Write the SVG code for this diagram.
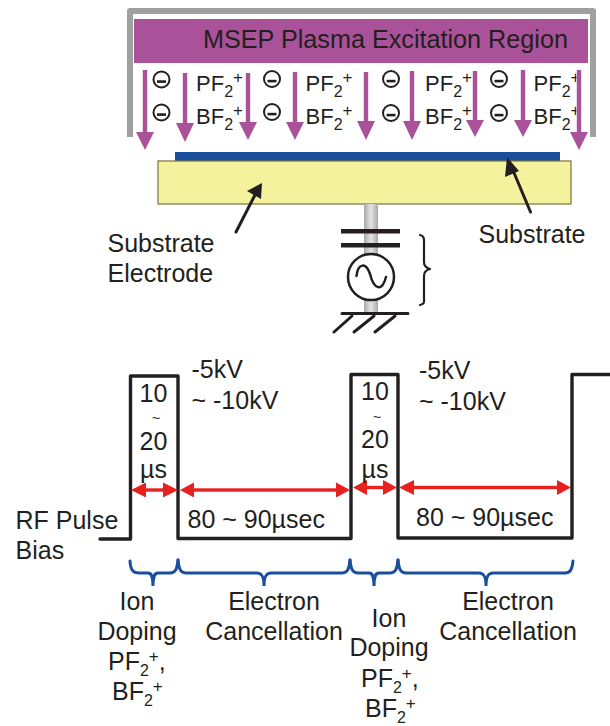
<svg xmlns="http://www.w3.org/2000/svg" width="610" height="726" viewBox="0 0 610 726">
<style>
text{font-family:"Liberation Sans",Arial,sans-serif;fill:#231f20;font-size:25px}
.ion{font-size:22px}
.sub{font-size:16px}
.sup{font-size:17px}
.pa{fill:#a9529a}
.ra{fill:#e8201f}
.k{fill:none;stroke:#231f20;stroke-linecap:round;stroke-linejoin:round}
.neg circle{fill:none;stroke:#231f20;stroke-width:2}
.neg rect{fill:#231f20}
.br{fill:none;stroke:#1b4f9e;stroke-width:3;stroke-linecap:round}
</style>
<defs>
<linearGradient id="col" x1="0" x2="1" y1="0" y2="0">
<stop offset="0" stop-color="#a8a8a8"/><stop offset="0.5" stop-color="#e4e4e4"/><stop offset="1" stop-color="#a8a8a8"/>
</linearGradient>
<g id="neg" class="neg"><circle r="8"/><rect x="-4.5" y="0.8" width="9" height="2.6"/></g>
<clipPath id="lastIon"><rect x="530" y="70" width="46.5" height="70"/></clipPath>
</defs>
<g id="chamber">
<path d="M130 137V11H593V137" fill="none" stroke="#a0a0a0" stroke-width="6" stroke-linejoin="round"/>
</g>
<g id="plasma-region">
<rect x="134" y="19" width="454" height="44" fill="#a9529a"/>
<text x="203" y="48" style="font-size:25.2px">MSEP Plasma Excitation Region</text>
</g>
<g id="negatives">
<use href="#neg" x="161.500" y="79.500"/><use href="#neg" x="161.500" y="112.500"/>
<use href="#neg" x="272" y="79"/><use href="#neg" x="272" y="112"/>
<use href="#neg" x="391" y="79"/><use href="#neg" x="391" y="113"/>
<use href="#neg" x="499" y="79"/><use href="#neg" x="499" y="113"/>
</g>
<g id="ions">
<text class="ion" x="196" y="91">PF<tspan class="sub" dy="6">2</tspan><tspan class="sup" dy="-14">+</tspan></text>
<text class="ion" x="196" y="124">BF<tspan class="sub" dy="6">2</tspan><tspan class="sup" dy="-14">+</tspan></text>
<text class="ion" x="305.500" y="91">PF<tspan class="sub" dy="6">2</tspan><tspan class="sup" dy="-14">+</tspan></text>
<text class="ion" x="305.500" y="124">BF<tspan class="sub" dy="6">2</tspan><tspan class="sup" dy="-14">+</tspan></text>
<text class="ion" x="425" y="91">PF<tspan class="sub" dy="6">2</tspan><tspan class="sup" dy="-14">+</tspan></text>
<text class="ion" x="425" y="124">BF<tspan class="sub" dy="6">2</tspan><tspan class="sup" dy="-14">+</tspan></text>
<g clip-path="url(#lastIon)">
<text class="ion" x="533.500" y="91">PF<tspan class="sub" dy="6">2</tspan><tspan class="sup" dy="-14">+</tspan></text>
<text class="ion" x="533.500" y="124">BF<tspan class="sub" dy="6">2</tspan><tspan class="sup" dy="-14">+</tspan></text>
</g>
</g>
<g id="ion-arrows">
<polygon class="pa" points="142.800,70 147.200,70 147.200,132 154,132 145,150 136,132 142.800,132"/>
<polygon class="pa" points="182.800,73 187.200,73 187.200,123 194,123 185,142 176,123 182.800,123"/>
<polygon class="pa" points="245.800,73 250.200,73 250.200,122 257,122 248,140 239,122 245.800,122"/>
<polygon class="pa" points="292.800,72 297.200,72 297.200,122 304,122 295,140 286,122 292.800,122"/>
<polygon class="pa" points="363.800,72 368.200,72 368.200,121 375,121 366,140 357,121 363.800,121"/>
<polygon class="pa" points="409.800,71 414.200,71 414.200,121 421,121 412,140 403,121 409.800,121"/>
<polygon class="pa" points="472.800,71 477.200,71 477.200,120 484,120 475,137 466,120 472.800,120"/>
<polygon class="pa" points="520.800,70 525.200,70 525.200,120 532,120 523,137 514,120 520.800,120"/>
<polygon class="pa" points="576.800,70 581.200,70 581.200,132 588,132 579,150 570,132 576.800,132"/>
</g>
<g id="substrate"><rect x="175" y="152" width="385" height="9" fill="#1b4f9e"/></g>
<g id="electrode"><rect x="158" y="161" width="413" height="43" fill="#f5f29d" stroke="#7d6f3c" stroke-width="1.2"/></g>
<g id="rf-source">
<rect x="364" y="204" width="14" height="108" fill="url(#col)"/>
<rect x="341" y="229" width="59" height="4.500" fill="#231f20"/>
<rect x="341" y="243" width="59" height="4.500" fill="#231f20"/>
<circle cx="371" cy="277" r="23" fill="#fff" stroke="#231f20" stroke-width="2.500"/>
<path class="k" stroke-width="2.500" d="M356.500 276C358 263 366 262 370 274C374 290 382 292 386 277"/>
<path class="k" stroke-width="3" d="M342 313.500H408M352 316L334 332M374 316L354 332M395 316L375 332" stroke-linecap="butt"/>
<path class="k" stroke-width="2.200" d="M420 235C425 236 424 240 424 246V262C424 266 426 268 430 269C426 270 424 272 424 276V296C424 302 425 304 420 305"/>
</g>
<g id="callouts">
<path class="k" stroke-width="3" d="M236 232L256 193M530.500 212L512 168" stroke-linecap="butt"/>
<polygon points="262,183 261,199 247,191" fill="#231f20"/>
<polygon points="507,157 519,171 505,177" fill="#231f20"/>
<text x="107.500" y="252">Substrate</text>
<text x="107.500" y="282">Electrode</text>
<text x="478.500" y="243">Substrate</text>
</g>
<g id="pulse">
<path class="k" stroke-width="3.400" stroke-linecap="butt" d="M100 539H130.500V376H178V538.500H351V374.500H398V538H572V374.500H610"/>
</g>
<g id="timing-arrows">
<rect class="ra" x="140" y="488.300" width="30" height="3.400"/>
<polygon class="ra" points="131,490 146,482.500 146,497.500"/><polygon class="ra" points="178,490 163,482.500 163,497.500"/>
<rect class="ra" x="190" y="488.300" width="150" height="3.400"/>
<polygon class="ra" points="180,490 194,482.500 194,497.500"/><polygon class="ra" points="350,490 336,482.500 336,497.500"/>
<rect class="ra" x="360" y="485.800" width="30" height="3.400"/>
<polygon class="ra" points="353,487.500 367,480 367,495"/><polygon class="ra" points="397,487.500 383,480 383,495"/>
<rect class="ra" x="410" y="485.800" width="150" height="3.400"/>
<polygon class="ra" points="399,487.500 414,480 414,495"/><polygon class="ra" points="571,487.500 557,480 557,495"/>
</g>
<g id="pulse-labels">
<text x="191.500" y="378">-5kV</text><text x="191.500" y="409">~ -10kV</text>
<text x="419" y="379">-5kV</text><text x="419" y="410">~ -10kV</text>
<g text-anchor="middle">
<text x="153.500" y="402">10</text><text x="156" y="423" style="font-size:14px">~</text><text x="153.500" y="450">20</text><text x="153.500" y="478">µs</text>
<text x="375" y="400">10</text><text x="377" y="422" style="font-size:14px">~</text><text x="375" y="448">20</text><text x="375" y="478">µs</text>
</g>
<text x="15.500" y="529">RF Pulse</text><text x="15.500" y="559">Bias</text>
<text x="187.500" y="528">80 ~ 90µsec</text><text x="416" y="526">80 ~ 90µsec</text>
</g>
<g id="braces">
<path class="br" d="M130 561C130.500 570 133 573 139 573H148C151 573 153 575 153 586C153 575 155 573 158 573H170C175 573 177 570 178 560"/>
<path class="br" d="M178 560C179 570 181 573 186 573H257C261 573 264 575 264 586C264 575 267 573 271 573H342C347 573 349 570 350 560"/>
<path class="br" d="M350 560C351 570 353 573 358 573H369C372 573 374 575 374 586C374 575 376 573 379 573H390C395 573 397 570 398 560"/>
<path class="br" d="M398 560C399 570 401 573 406 573H479C483 573 486 575 486 586C486 575 489 573 493 573H565C570 573 572 570 573 561"/>
</g>
<g id="phase-labels">
<g text-anchor="middle">
<text x="137" y="610">Ion</text><text x="137" y="640">Doping</text>
<text x="274" y="610">Electron</text><text x="274" y="640">Cancellation</text>
<text x="389" y="627">Ion</text><text x="389" y="656">Doping</text>
<text x="508" y="610">Electron</text><text x="508" y="640">Cancellation</text>
</g>
<text x="108" y="670">PF<tspan class="sub" dy="6">2</tspan><tspan class="sup" dy="-14">+</tspan><tspan dy="8">,</tspan></text>
<text x="112" y="700">BF<tspan class="sub" dy="6">2</tspan><tspan class="sup" dy="-14">+</tspan></text>
<text x="361" y="687">PF<tspan class="sub" dy="6">2</tspan><tspan class="sup" dy="-14">+</tspan><tspan dy="8">,</tspan></text>
<text x="365" y="717">BF<tspan class="sub" dy="6">2</tspan><tspan class="sup" dy="-14">+</tspan></text>
</g>
</svg>
